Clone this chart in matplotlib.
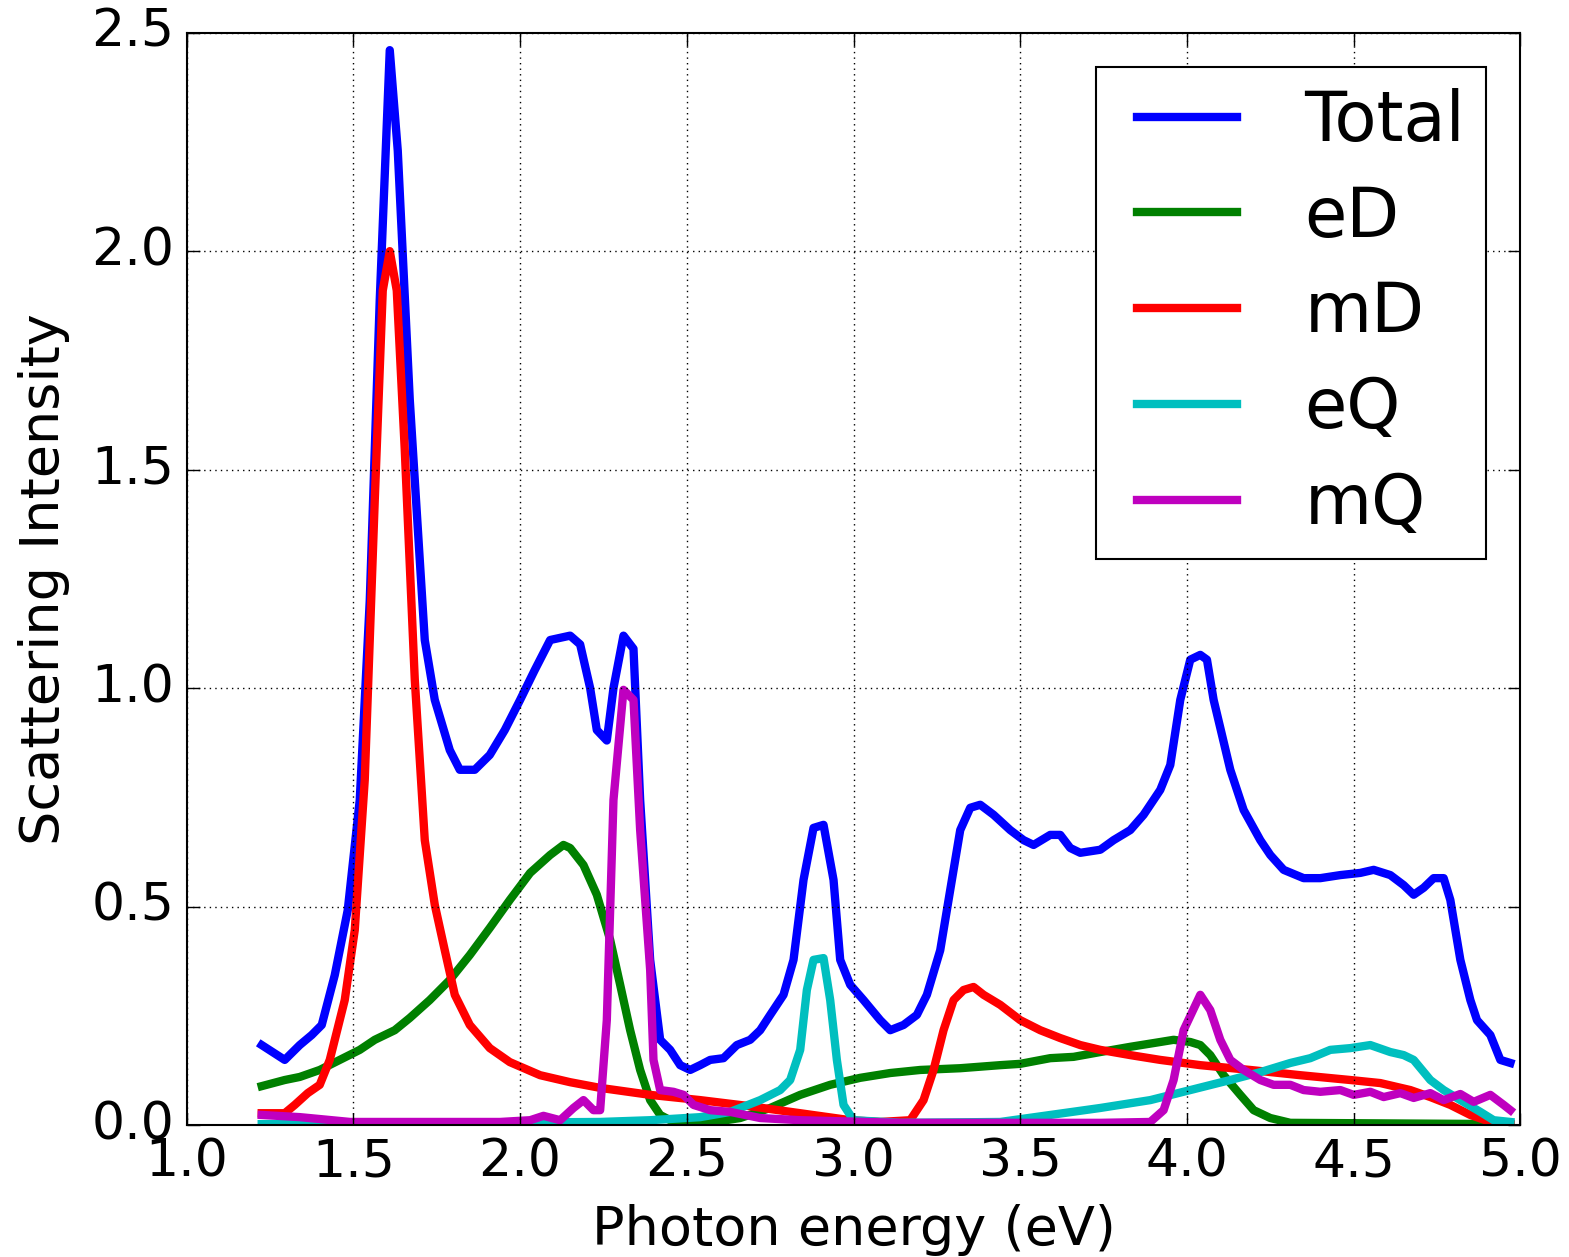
import numpy as np
import matplotlib
matplotlib.use('Agg')
import matplotlib.pyplot as plt

# Total
total_x = [1.225, 1.294, 1.339, 1.375, 1.405, 1.444, 1.483, 1.519, 1.549, 1.579, 1.609, 1.633,
           1.669, 1.714, 1.744, 1.789, 1.819, 1.864, 1.909, 1.954, 2.0, 2.043, 2.09, 2.15, 2.18,
           2.21, 2.23, 2.26, 2.28, 2.31, 2.34, 2.36, 2.39, 2.42, 2.45, 2.48, 2.51, 2.54, 2.57,
           2.61, 2.65, 2.69, 2.72, 2.75, 2.79, 2.82, 2.85, 2.88, 2.91, 2.94, 2.96, 2.99, 3.03,
           3.08, 3.11, 3.15, 3.19, 3.22, 3.26, 3.29, 3.32, 3.35, 3.38, 3.42, 3.47, 3.51, 3.54,
           3.59, 3.62, 3.65, 3.68, 3.74, 3.78, 3.83, 3.87, 3.92, 3.95, 3.98, 4.01, 4.04, 4.06,
           4.08, 4.13, 4.17, 4.22, 4.25, 4.29, 4.35, 4.40, 4.46, 4.52, 4.56, 4.61, 4.65, 4.68,
           4.71, 4.74, 4.77, 4.79, 4.82, 4.85, 4.87, 4.91, 4.94, 4.97]
total_y = [0.183, 0.149, 0.183, 0.206, 0.229, 0.343, 0.492, 0.744, 1.20, 1.889, 2.46, 2.23,
           1.66, 1.11, 0.973, 0.858, 0.813, 0.813, 0.847, 0.904, 0.973, 1.04, 1.11, 1.12, 1.10,
           1.00, 0.904, 0.88, 1.00, 1.12, 1.09, 0.744, 0.378, 0.195, 0.172, 0.137, 0.126, 0.137,
           0.149, 0.153, 0.183, 0.195, 0.217, 0.252, 0.298, 0.378, 0.561, 0.680, 0.687, 0.561,
           0.378, 0.321, 0.286, 0.240, 0.217, 0.229, 0.252, 0.298, 0.40, 0.538, 0.675, 0.726,
           0.733, 0.71, 0.675, 0.652, 0.641, 0.664, 0.664, 0.634, 0.623, 0.63, 0.652, 0.675,
           0.71, 0.767, 0.824, 0.973, 1.065, 1.076, 1.065, 0.973, 0.813, 0.721, 0.652, 0.618,
           0.584, 0.565, 0.565, 0.572, 0.577, 0.584, 0.572, 0.549, 0.527, 0.543, 0.565, 0.565,
           0.515, 0.378, 0.286, 0.240, 0.206, 0.149, 0.142]

# electric dipole
ed_x = [1.225, 1.294, 1.339, 1.399, 1.459, 1.519, 1.564, 1.624, 1.669, 1.729, 1.789, 1.849,
        1.909, 1.969, 2.03, 2.09, 2.13, 2.15, 2.19, 2.23, 2.27, 2.30, 2.33, 2.36, 2.39, 2.42,
        2.46, 2.54, 2.66, 2.75, 2.84, 2.93, 3.02, 3.11, 3.20, 3.32, 3.44, 3.50, 3.59, 3.66,
        3.74, 3.83, 3.92, 3.96, 4.01, 4.04, 4.07, 4.11, 4.16, 4.20, 4.25, 4.31, 4.97]
ed_y = [0.089, 0.103, 0.110, 0.126, 0.149, 0.172, 0.195, 0.217, 0.245, 0.286, 0.332, 0.389,
        0.451, 0.515, 0.577, 0.618, 0.641, 0.634, 0.595, 0.527, 0.424, 0.321, 0.217, 0.126,
        0.057, 0.023, 0.007, 0.002, 0.016, 0.039, 0.069, 0.092, 0.108, 0.119, 0.126, 0.130,
        0.137, 0.140, 0.153, 0.156, 0.167, 0.179, 0.190, 0.195, 0.190, 0.183, 0.160, 0.114,
        0.069, 0.034, 0.016, 0.005, 0.002]

# magnetic dipole
md_x = [1.225, 1.294, 1.324, 1.363, 1.399, 1.429, 1.474, 1.504, 1.534, 1.564, 1.588, 1.609,
        1.630, 1.654, 1.684, 1.714, 1.744, 1.774, 1.804, 1.849, 1.909, 1.969, 2.06, 2.15,
        2.24, 2.39, 2.54, 2.69, 2.84, 2.99, 3.08, 3.17, 3.21, 3.24, 3.27, 3.30, 3.33, 3.36,
        3.39, 3.44, 3.50, 3.56, 3.62, 3.68, 3.74, 3.83, 3.92, 4.04, 4.19, 4.34, 4.49, 4.58,
        4.67, 4.73, 4.79, 4.85, 4.91, 4.97]
md_y = [0.027, 0.027, 0.046, 0.073, 0.092, 0.149, 0.286, 0.446, 0.79, 1.43, 1.91, 2.00,
        1.91, 1.545, 1.02, 0.652, 0.504, 0.40, 0.298, 0.229, 0.176, 0.144, 0.114, 0.098,
        0.085, 0.069, 0.057, 0.043, 0.027, 0.011, 0.007, 0.011, 0.057, 0.126, 0.217, 0.286,
        0.309, 0.316, 0.298, 0.275, 0.240, 0.217, 0.199, 0.183, 0.172, 0.160, 0.149, 0.137,
        0.126, 0.114, 0.103, 0.096, 0.080, 0.064, 0.046, 0.023, 0.007, 0.002]

# electric quadrupole
eq_x = [1.225, 2.24, 2.39, 2.54, 2.63, 2.72, 2.78, 2.81, 2.84, 2.86, 2.88, 2.91, 2.93, 2.95,
        2.97, 3.00, 3.14, 3.44, 3.59, 3.74, 3.89, 4.01, 4.13, 4.22, 4.31, 4.37, 4.43, 4.49,
        4.55, 4.61, 4.65, 4.68, 4.73, 4.77, 4.82, 4.88, 4.92, 4.97]
eq_y = [0.002, 0.007, 0.011, 0.018, 0.030, 0.057, 0.080, 0.103, 0.172, 0.309, 0.378, 0.382,
        0.286, 0.149, 0.046, 0.011, 0.005, 0.007, 0.023, 0.039, 0.057, 0.080, 0.103, 0.121,
        0.142, 0.153, 0.172, 0.176, 0.183, 0.167, 0.160, 0.149, 0.103, 0.080, 0.057, 0.030,
        0.011, 0.007]

# magnetic quadrupole
mq_x = [1.225, 1.34, 1.49, 1.94, 2.03, 2.07, 2.12, 2.16, 2.19, 2.22, 2.24, 2.26, 2.28, 2.31,
        2.34, 2.36, 2.39, 2.40, 2.42, 2.46, 2.49, 2.52, 2.57, 2.63, 2.72, 2.84, 3.14, 3.74,
        3.89, 3.93, 3.96, 3.99, 4.04, 4.07, 4.10, 4.13, 4.17, 4.22, 4.26, 4.31, 4.35, 4.40,
        4.46, 4.50, 4.55, 4.59, 4.64, 4.68, 4.73, 4.77, 4.82, 4.86, 4.91, 4.95, 4.97]
mq_y = [0.023, 0.018, 0.007, 0.007, 0.011, 0.021, 0.011, 0.039, 0.057, 0.034, 0.034, 0.240,
        0.744, 0.996, 0.973, 0.675, 0.355, 0.149, 0.080, 0.076, 0.069, 0.046, 0.034, 0.030,
        0.016, 0.011, 0.005, 0.005, 0.007, 0.034, 0.103, 0.217, 0.298, 0.263, 0.195, 0.149,
        0.126, 0.103, 0.092, 0.092, 0.080, 0.076, 0.080, 0.069, 0.076, 0.064, 0.073, 0.062,
        0.073, 0.057, 0.071, 0.053, 0.069, 0.046, 0.034]

plt.style.use('classic')
plt.rcParams['font.family'] = ['DejaVu Sans']
plt.rcParams['figure.facecolor'] = 'white'
plt.rcParams['axes.linewidth'] = 1.5

fig = plt.figure(figsize=(15.69, 12.57), dpi=100)
ax = fig.add_axes([0.119, 0.105, 0.850, 0.869])

lw = 6
ax.plot(total_x, total_y, color='b', lw=lw, label='Total')
ax.plot(ed_x, ed_y, color='g', lw=lw, label='eD')
ax.plot(md_x, md_y, color='r', lw=lw, label='mD')
ax.plot(eq_x, eq_y, color='c', lw=lw, label='eQ')
ax.plot(mq_x, mq_y, color='m', lw=lw, label='mQ')

ax.set_xlim(1.0, 5.0)
ax.set_ylim(0.0, 2.5)
ax.set_xticks(np.arange(1.0, 5.01, 0.5))
ax.set_yticks(np.arange(0.0, 2.51, 0.5))
ax.grid(True, color='k', linestyle=':', linewidth=1)
ax.tick_params(labelsize=37.5, length=9, width=1, pad=9)
ax.set_xlabel('Photon energy (eV)', fontsize=39, labelpad=12)
ax.set_ylabel('Scattering Intensity', fontsize=39, labelpad=15)

leg = ax.legend(loc='upper right', fontsize=49.5, handlelength=2.05, handletextpad=0.69,
                labelspacing=0.42, borderpad=0.3, borderaxespad=0.5, fancybox=False)
leg.get_frame().set_linewidth(1.5)

fig.savefig('out.png', dpi=100)
